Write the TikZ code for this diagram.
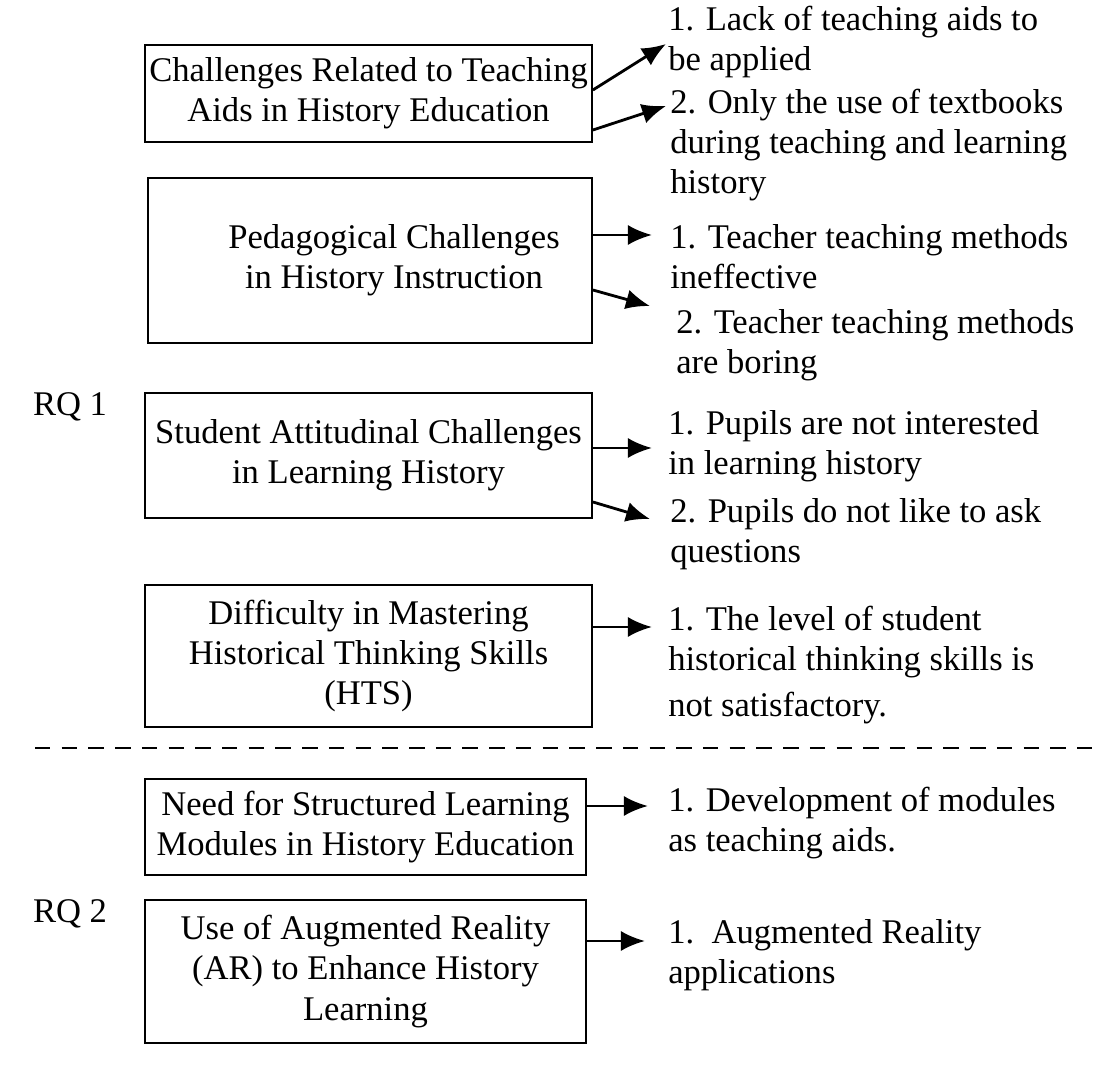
\documentclass[tikz,border=0pt]{standalone}
\usepackage{fontspec}
\setmainfont{Liberation Serif}
\usetikzlibrary{arrows.meta,positioning}
\begin{document}
\begin{tikzpicture}[x=0.025cm,y=-0.025cm]
	\tikzstyle{box}=[draw, rectangle, line width=1.3pt, align=center, inner sep=0pt]
	\tikzstyle{item}=[anchor=west, align=left, inner sep=0pt]
	\tikzstyle{arr}=[-{Latex[length=0.6cm,width=0.5cm]}, line width=2pt]
	\useasboundingbox (0,0) rectangle (1100,1082);
	\fontsize{24.6}{28.5}\selectfont

	\node[box, minimum width=447*0.025cm, minimum height=97*0.025cm] (aids) at (368.5,93.5) {Challenges Related to Teaching\\Aids in History Education};
	\node[box, minimum width=444*0.025cm, minimum height=165*0.025cm] (ped) at (370,260.5) {\hspace*{1.2cm}Pedagogical Challenges\\\hspace*{1.2cm}in History Instruction};
	\node[box, minimum width=447*0.025cm, minimum height=125*0.025cm] (att) at (368.5,455.5) {Student Attitudinal Challenges\\in Learning History};
	\node[box, minimum width=447*0.025cm, minimum height=142*0.025cm] (hts) at (368.5,656) {Difficulty in Mastering\\Historical Thinking Skills\\(HTS)};
	\node[box, minimum width=441*0.025cm, minimum height=96*0.025cm] (mod) at (365.5,827) {Need for Structured Learning\\Modules in History Education};
	\node[box, minimum width=441*0.025cm, minimum height=143*0.025cm] (ar) at (365.5,971.5) {Use of Augmented Reality\\(AR) to Enhance History\\Learning};

	\node (rq1) at (70,407) {RQ 1};
	\node (rq2) at (70,914) {RQ 2};
	\coordinate (dl) at (35,748);
	\coordinate (dr) at (1100,748);
	\draw[line width=2pt, dash pattern=on 11pt off 8pt] (dl) -- (dr);

	\node[item] (aids1) at (668,42) {1. Lack of teaching aids to\\be applied};
	\node[item] (aids2) at (670,145) {2. Only the use of textbooks\\during teaching and learning\\history};
	\node[item] (ped1) at (670,257) {1. Teacher teaching methods\\ineffective};
	\node[item] (ped2) at (676,345) {2. Teacher teaching methods\\are boring};
	\node[item] (att1) at (668,446) {1. Pupils are not interested\\in learning history};
	\node[item] (att2) at (670,534) {2. Pupils do not like to ask\\questions};
	\node[item] (hts1) at (668,665) {1. The level of student\\historical thinking skills is\\[4pt]not satisfactory.};
	\node[item] (mod1) at (668,823) {1. Development of modules\\as teaching aids.};
	\node[item] (ar1) at (668,955) {1.\ \ Augmented Reality\\applications};

	% arrow ends
	\coordinate (e11) at (666,44);
	\coordinate (e12) at (666,106);
	\coordinate (e21) at (652,235);
	\coordinate (e22) at (650,306);
	\coordinate (e31) at (652,448);
	\coordinate (e32) at (650,519);
	\coordinate (e41) at (652,627);
	\coordinate (e51) at (648,806);
	\coordinate (e61) at (645,941);

	\draw[arr] (aids.east |- 0,90) -- (e11);
	\draw[arr] (aids.east |- 0,130) -- (e12);
	\draw[arr] (ped.east |- 0,235) -- (e21);
	\draw[arr] (ped.east |- 0,290) -- (e22);
	\draw[arr] (att.east |- 0,448) -- (e31);
	\draw[arr] (att.east |- 0,502) -- (e32);
	\draw[arr] (hts.east |- 0,627) -- (e41);
	\draw[arr] (mod.east |- 0,806) -- (e51);
	\draw[arr] (ar.east |- 0,941) -- (e61);
\end{tikzpicture}
\end{document}
